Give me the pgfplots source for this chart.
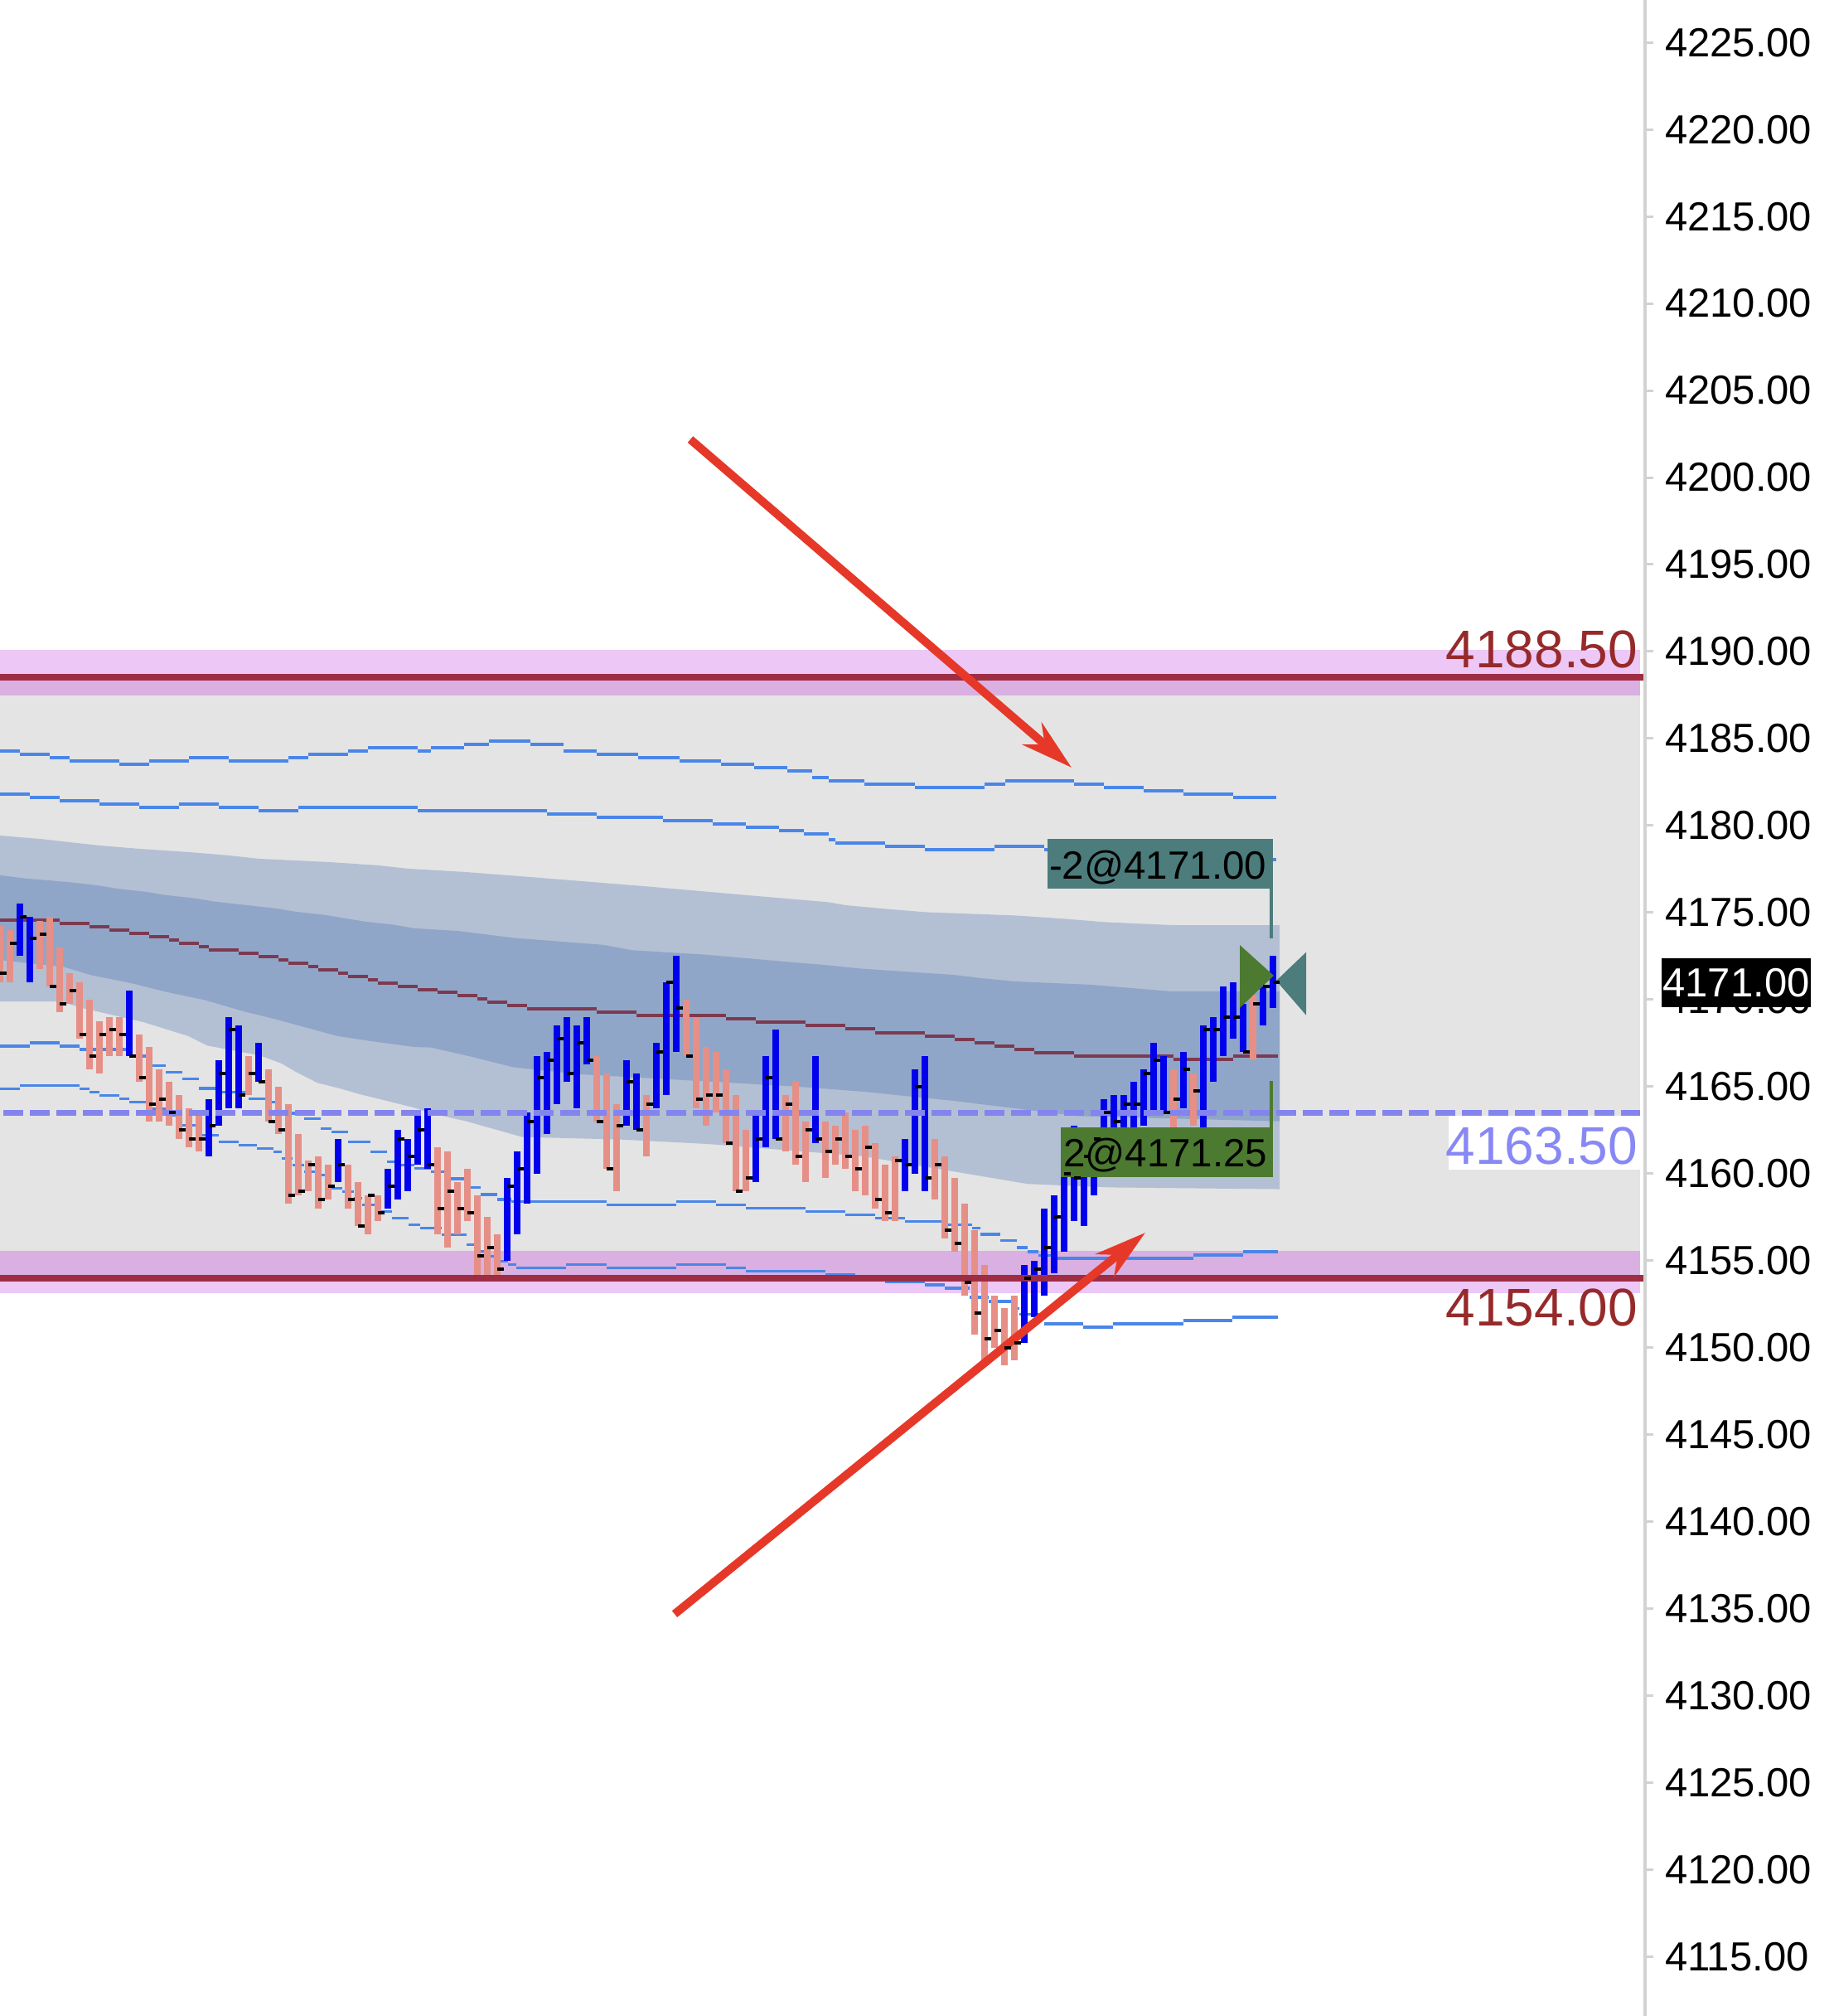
\documentclass[border=0pt]{standalone}
\usepackage{pgfplots}
\pgfplotsset{compat=1.18}
\usepackage{pgfplotstable}
\usepackage{fontspec}
\setmainfont{Liberation Sans}
\usetikzlibrary{arrows.meta}
\definecolor{pinkl}{RGB}{237,199,246}
\definecolor{mauve}{RGB}{217,176,225}
\definecolor{bggray}{RGB}{228,228,228}
\definecolor{bandlight}{RGB}{179,192,212}
\definecolor{banddark}{RGB}{144,166,200}
\definecolor{midline}{RGB}{124,58,80}
\definecolor{linered}{RGB}{158,45,68}
\definecolor{labred}{RGB}{150,42,42}
\definecolor{bluel}{RGB}{74,134,232}
\definecolor{dashb}{RGB}{132,132,238}
\definecolor{dashtext}{RGB}{136,136,245}
\definecolor{barblue}{RGB}{0,0,236}
\definecolor{barsalmon}{RGB}{229,143,135}
\definecolor{tealbox}{RGB}{76,124,124}
\definecolor{greenbox}{RGB}{76,122,48}
\definecolor{arrowred}{RGB}{230,56,40}
\definecolor{axisgray}{RGB}{210,210,210}
\newcommand\tickfont{\fontsize{9.8pt}{11pt}\selectfont}
\newcommand\levfont{\fontsize{12.8pt}{14pt}\selectfont}
\newcommand\trfont{\fontsize{9.5pt}{11pt}\selectfont}

\pgfplotstableread{
x hi lo cl
24 4175.5 4172.5 4174.75
36 4174.75 4171.0 4173.5
156 4170.5 4166.75 4166.75
252 4164.25 4161.0 4162.75
264 4166.5 4162.75 4165.75
276 4169.0 4163.75 4168.25
288 4168.5 4163.75 4164.5
312 4167.5 4165.25 4165.25
408 4162.0 4159.5 4160.5
468 4160.25 4158.0 4159.25
480 4162.5 4158.5 4162.0
492 4162.0 4159.0 4161.0
504 4163.5 4160.5 4162.5
516 4163.75 4160.25 4160.5
612 4159.75 4155.0 4159.25
624 4161.25 4156.5 4160.25
636 4163.5 4158.25 4163.0
648 4166.75 4160.0 4165.5
660 4167.0 4162.25 4166.5
672 4168.5 4164.0 4167.75
684 4169.0 4165.25 4165.75
696 4168.5 4163.75 4167.5
708 4169.0 4166.25 4166.5
756 4166.5 4162.75 4165.25
768 4165.75 4162.5 4162.5
792 4167.5 4163.75 4167.0
804 4171.0 4164.5 4171.0
816 4172.5 4167.0 4169.5
912 4163.5 4159.5 4162.0
924 4166.75 4161.5 4165.5
936 4168.25 4162.0 4162.0
984 4166.75 4161.75 4162.0
1092 4162.0 4159.0 4160.5
1104 4166.0 4160.0 4165.0
1116 4166.75 4159.0 4159.75
1236 4154.75 4150.25 4154.0
1248 4155.0 4151.75 4154.5
1260 4158.0 4153.0 4155.75
1272 4158.75 4154.25 4157.5
1284 4161.5 4155.5 4160.0
1296 4162.75 4157.25 4159.75
1308 4161.5 4157.0 4161.0
1320 4162.25 4158.75 4162.0
1332 4164.25 4160.5 4163.5
1344 4164.5 4161.0 4163.0
1356 4164.5 4161.5 4164.0
1368 4165.25 4162.0 4164.0
1380 4166.0 4162.75 4165.75
1392 4167.5 4163.5 4166.5
1404 4166.75 4163.5 4163.5
1428 4167.0 4163.75 4166.0
1452 4168.5 4161.75 4168.25
1464 4169.0 4165.25 4168.25
1476 4170.75 4166.75 4169.0
1488 4171.0 4167.75 4169.0
1500 4169.75 4167.0 4167.0
1524 4170.75 4168.5 4170.75
1536 4172.5 4169.5 4171.0
}\bluebars

\pgfplotstableread{
x hi lo cl
0 4174.25 4171.0 4171.5
12 4174.0 4171.0 4173.25
48 4174.5 4171.75 4173.75
60 4174.75 4170.75 4170.75
72 4173.0 4169.25 4169.75
84 4171.5 4169.75 4170.5
96 4171.0 4167.75 4168.0
108 4170.0 4166.0 4166.75
120 4168.75 4165.75 4168.0
132 4169.0 4166.75 4168.25
144 4169.0 4166.75 4168.0
168 4168.0 4165.25 4165.5
180 4167.25 4163.0 4164.0
192 4166.0 4163.0 4164.25
204 4165.25 4162.75 4163.5
216 4164.5 4162.0 4162.5
228 4163.75 4161.5 4162.0
240 4163.5 4161.25 4162.0
300 4166.75 4164.5 4165.75
324 4166.0 4163.0 4163.0
336 4165.0 4162.25 4162.5
348 4164.0 4158.25 4158.75
360 4162.25 4158.75 4159.0
372 4160.75 4159.0 4160.5
384 4161.0 4158.0 4158.5
396 4160.5 4158.5 4159.25
420 4160.5 4158.0 4158.5
432 4159.5 4157.0 4157.0
444 4158.75 4156.5 4158.75
456 4158.75 4157.25 4157.75
528 4161.5 4156.5 4158.0
540 4161.25 4155.75 4159.0
552 4159.5 4156.5 4158.0
564 4160.25 4157.25 4157.75
576 4158.75 4154.0 4155.25
588 4157.5 4154.0 4155.75
600 4156.5 4154.0 4154.5
720 4166.75 4163.0 4163.0
732 4165.75 4160.25 4160.25
744 4164.0 4159.0 4162.75
780 4164.5 4161.0 4164.0
828 4170.0 4166.75 4166.75
840 4169.0 4163.75 4164.25
852 4167.25 4162.75 4164.5
864 4167.0 4163.5 4164.5
876 4166.0 4161.75 4161.75
888 4164.5 4159.0 4159.0
900 4162.5 4159.0 4159.75
948 4164.5 4161.25 4164.0
960 4165.25 4160.5 4161.0
972 4163.0 4159.5 4162.5
996 4163.0 4159.75 4161.25
1008 4162.75 4160.5 4162.0
1020 4163.5 4160.25 4161.0
1032 4162.5 4159.0 4160.25
1044 4162.75 4158.75 4161.5
1056 4161.75 4158.0 4158.5
1068 4160.5 4157.25 4157.75
1080 4161.0 4157.25 4160.75
1128 4162.0 4158.5 4160.5
1140 4161.0 4156.25 4156.75
1152 4159.75 4155.5 4156.0
1164 4158.25 4153.0 4153.75
1176 4156.75 4150.75 4152.0
1188 4154.75 4149.25 4150.5
1200 4153.0 4150.0 4151.0
1212 4152.25 4149.0 4150.0
1224 4153.0 4149.25 4150.25
1416 4166.0 4162.5 4164.25
1440 4165.75 4162.75 4164.75
1512 4170.25 4166.5 4169.75
}\salmonbars

\begin{document}
\begin{tikzpicture}
\useasboundingbox (0,0) rectangle (442.4pt,486.4pt);
\begin{axis}[
  at={(0,0)}, anchor=south west,
  x=0.2pt, y=4.198pt,
  xmin=0, xmax=1985, ymin=4111.58, ymax=4227.44,
  clip=false,
  hide x axis,
  axis line style={draw=none},
  ytick={4115,4120,...,4225},
  ytick pos=right, yticklabel pos=right,
  tick align=outside, major tick length=2pt,
  ytick style={draw=axisgray, line width=0.6pt},
  yticklabel style={font=\tickfont, anchor=west, inner sep=0pt, xshift=2.6pt},
  /pgf/number format/fixed, /pgf/number format/fixed zerofill,
  /pgf/number format/precision=2, /pgf/number format/1000 sep={},
  /pgf/number format/assume math mode=true,
]
% zones
\addplot [fill=pinkl, draw=none, mark=none] coordinates {(0,4188.5) (1979,4188.5) (1979,4190.1) (0,4190.1)} --cycle;
\addplot [fill=mauve, draw=none, mark=none] coordinates {(0,4187.45) (1979,4187.45) (1979,4188.5) (0,4188.5)} --cycle;
\addplot [fill=bggray, draw=none, mark=none] coordinates {(0,4155.55) (1979,4155.55) (1979,4187.45) (0,4187.45)} --cycle;
\addplot [fill=mauve, draw=none, mark=none] coordinates {(0,4154.0) (1979,4154.0) (1979,4155.55) (0,4155.55)} --cycle;
\addplot [fill=pinkl, draw=none, mark=none] coordinates {(0,4153.13) (1979,4153.13) (1979,4154.0) (0,4154.0)} --cycle;
% bands
\addplot [fill=bandlight, draw=none, mark=none] coordinates {(0,4179.42) (48,4179.23) (84,4179.04) (120,4178.85) (168,4178.66) (228,4178.47) (276,4178.28) (312,4178.09) (396,4177.9) (456,4177.71) (492,4177.52) (560,4177.33) (650,4177.0) (780,4176.5) (900,4176.0) (1000,4175.59) (1020,4175.42) (1068,4175.21) (1116,4175.02) (1224,4174.83) (1284,4174.64) (1332,4174.45) (1416,4174.27) (1544,4174.27) (1544,4159.1) (1340,4159.2) (1240,4159.4) (1190,4159.8) (1140,4160.2) (1090,4160.6) (1040,4161.0) (853,4161.7) (750,4161.95) (630,4162.1) (600,4162.5) (563,4163.0) (520,4163.46) (500,4163.78) (467,4164.17) (433,4164.57) (410,4164.89) (383,4165.21) (357,4165.84) (340,4166.32) (313,4166.79) (250,4167.35) (227,4167.9) (173,4168.7) (100,4169.5) (73,4169.89) (0,4169.89)} --cycle;
\addplot [fill=banddark, draw=none, mark=none] coordinates {(0,4177.14) (32,4176.95) (80,4176.76) (116,4176.57) (140,4176.38) (176,4176.19) (200,4176.0) (236,4175.81) (260,4175.62) (296,4175.43) (332,4175.24) (356,4175.05) (392,4174.86) (416,4174.67) (440,4174.48) (476,4174.29) (500,4174.09) (553,4173.94) (620,4173.54) (728,4173.14) (763,4172.83) (848,4172.59) (944,4172.19) (992,4172.0) (1040,4171.77) (1150,4171.42) (1183,4171.23) (1224,4171.04) (1316,4170.85) (1412,4170.47) (1544,4170.47) (1544,4163.0) (1300,4163.3) (1150,4164.18) (1040,4164.71) (960,4165.0) (850,4165.3) (700,4165.7) (620,4166.1) (570,4166.7) (520,4167.24) (500,4167.27) (450,4167.59) (407,4167.9) (370,4168.38) (333,4168.86) (293,4169.33) (247,4169.97) (200,4170.44) (160,4170.92) (110,4171.4) (77,4171.87) (0,4172.27)} --cycle;
% mid line
\addplot [midline, line width=0.8pt, jump mark left, mark=none] coordinates {(0,4174.57) (72,4174.38) (108,4174.19) (132,4174.0) (156,4173.81) (180,4173.62) (204,4173.43) (216,4173.24) (240,4173.05) (252,4172.86) (288,4172.67) (312,4172.48) (336,4172.29) (348,4172.1) (372,4171.9) (384,4171.71) (408,4171.52) (420,4171.33) (444,4171.14) (456,4170.95) (480,4170.76) (504,4170.57) (528,4170.41) (552,4170.22) (576,4170.03) (588,4169.84) (612,4169.65) (636,4169.46) (720,4169.27) (768,4169.08) (876,4168.89) (912,4168.7) (972,4168.51) (1020,4168.32) (1056,4168.09) (1116,4167.9) (1152,4167.71) (1176,4167.52) (1200,4167.33) (1224,4167.14) (1248,4166.95) (1296,4166.76) (1416,4166.57) (1488,4166.76) (1542,4166.76)};
% blue lines
\addplot [bluel, line width=0.7pt, jump mark left, mark=none] coordinates {(0,4184.28) (24,4184.09) (60,4183.9) (84,4183.71) (144,4183.52) (180,4183.71) (228,4183.9) (276,4183.71) (348,4183.9) (372,4184.09) (420,4184.28) (444,4184.47) (504,4184.28) (520,4184.47) (560,4184.66) (590,4184.85) (640,4184.66) (680,4184.28) (720,4184.09) (770,4183.9) (820,4183.71) (870,4183.52) (910,4183.33) (950,4183.14) (980,4182.76) (1000,4182.57) (1043,4182.38) (1104,4182.19) (1188,4182.38) (1213,4182.57) (1296,4182.38) (1332,4182.19) (1380,4182.0) (1428,4181.81) (1488,4181.62) (1540,4181.62)};
\addplot [bluel, line width=0.7pt, jump mark left, mark=none] coordinates {(0,4181.8) (36,4181.61) (72,4181.42) (120,4181.23) (168,4181.04) (216,4181.23) (264,4181.04) (312,4180.85) (360,4181.04) (504,4180.85) (600,4180.85) (660,4180.66) (720,4180.47) (800,4180.28) (860,4180.09) (900,4179.9) (940,4179.71) (970,4179.52) (1000,4179.19) (1008,4179.0) (1068,4178.81) (1116,4178.62) (1200,4178.81) (1260,4178.62) (1400,4178.24) (1480,4178.05) (1540,4178.05)};
\addplot [bluel, line width=0.7pt, jump mark left, mark=none] coordinates {(0,4167.33) (36,4167.52) (72,4167.33) (96,4167.14) (160,4166.76) (184,4166.19) (200,4165.81) (220,4165.43) (240,4164.89) (260,4164.67) (300,4164.29) (320,4164.1) (340,4163.46) (367,4163.14) (387,4162.57) (400,4162.38) (420,4161.81) (447,4161.24) (467,4160.67) (480,4160.48) (500,4160.29) (520,4160.1) (540,4159.7) (560,4159.2) (580,4158.8) (600,4158.5) (617,4158.38) (732,4158.19) (816,4158.38) (864,4158.19) (900,4158.0) (972,4157.81) (1020,4157.62) (1056,4157.44) (1092,4157.25) (1140,4157.06) (1173,4156.87) (1183,4156.5) (1207,4156.14) (1227,4155.74) (1240,4155.5) (1253,4155.3) (1273,4155.12) (1440,4155.31) (1500,4155.5) (1542,4155.5)};
\addplot [bluel, line width=0.7pt, jump mark left, mark=none] coordinates {(0,4164.86) (24,4165.05) (96,4164.86) (108,4164.67) (120,4164.48) (144,4164.29) (156,4164.1) (180,4163.71) (200,4163.33) (220,4162.76) (240,4162.19) (264,4161.81) (288,4161.62) (310,4161.43) (330,4161.24) (340,4160.86) (353,4160.48) (367,4160.1) (380,4159.9) (400,4159.14) (413,4158.95) (427,4158.57) (437,4158.19) (460,4157.81) (473,4157.43) (493,4157.05) (507,4156.86) (533,4156.48) (563,4155.9) (573,4155.52) (590,4155.24) (603,4154.95) (613,4154.76) (623,4154.57) (683,4154.76) (732,4154.57) (816,4154.76) (876,4154.57) (900,4154.38) (996,4154.19) (1032,4154.0) (1068,4153.79) (1116,4153.6) (1140,4153.41) (1170,4152.89) (1193,4152.65) (1220,4152.25) (1230,4151.9) (1260,4151.35) (1307,4151.16) (1343,4151.35) (1428,4151.54) (1487,4151.73) (1542,4151.73)};
% close ticks
\addplot [only marks, mark=-, mark size=0.8pt, mark options={draw=black, line width=0.8pt}] table [x expr=\thisrow{x}+4, y=cl] {\bluebars};
\addplot [only marks, mark=-, mark size=0.8pt, mark options={draw=black, line width=0.8pt}] table [x expr=\thisrow{x}+4, y=cl] {\salmonbars};
% bars
\addplot [mark=none, draw=none, error bars/.cd, y dir=plus, y explicit, error mark=none, error bar style={draw=barblue, line width=1.6pt}] table [x=x, y=lo, y error expr=\thisrow{hi}-\thisrow{lo}] {\bluebars};
\addplot [mark=none, draw=none, error bars/.cd, y dir=plus, y explicit, error mark=none, error bar style={draw=barsalmon, line width=1.6pt}] table [x=x, y=lo, y error expr=\thisrow{hi}-\thisrow{lo}] {\salmonbars};
% level lines
\addplot [linered, line width=1.6pt, mark=none] coordinates {(0,4188.5) (1983,4188.5)};
\addplot [linered, line width=1.6pt, mark=none] coordinates {(0,4154.0) (1983,4154.0)};
\addplot [dashb, line width=1.4pt, mark=none, dash pattern=on 4.8pt off 1.6pt, dash phase=5.6pt] coordinates {(0,4163.5) (1979,4163.5)};
% axis line
\draw [axisgray, line width=0.8pt] (axis cs:1985,4111.58) -- (axis cs:1985,4227.44);
% level labels
\node [anchor=base east, inner sep=0pt, text=labred, font=\levfont] at (axis cs:1977,4189.09) {4188.50};
\node [anchor=base east, inner sep=0pt, text=labred, font=\levfont] at (axis cs:1977,4151.26) {4154.00};
\fill [white] (axis cs:1748,4163.31) rectangle (axis cs:1979,4160.22);
\node [anchor=base east, inner sep=0pt, text=dashtext, font=\levfont] at (axis cs:1977,4160.55) {4163.50};
% trade markers
\fill [tealbox] (axis cs:1264,4179.21) rectangle (axis cs:1536,4176.36);
\node [anchor=base west, inner sep=0pt, font=\trfont] at (axis cs:1265,4176.94) {-2@4171.00};
\draw [tealbox, line width=0.8pt] (axis cs:1534,4176.36) -- (axis cs:1534,4173.5);
\fill [greenbox] (axis cs:1280,4162.64) rectangle (axis cs:1536,4159.78);
\node [anchor=base west, inner sep=0pt, font=\trfont] at (axis cs:1282,4160.41) {2@4171.25};
\draw [greenbox, line width=0.8pt] (axis cs:1534,4162.64) -- (axis cs:1534,4165.3);
\fill [greenbox] (axis cs:1496,4173.13) -- (axis cs:1537,4171.37) -- (axis cs:1496,4169.52) -- cycle;
\fill [tealbox] (axis cs:1540,4171.08) -- (axis cs:1576,4172.72) -- (axis cs:1576,4169.10) -- cycle;
% arrows
\draw [arrowred, line width=2pt, -{Stealth[length=12.5pt, width=7pt, inset=4pt]}] (axis cs:833,4202.19) -- (axis cs:1293,4183.33);
\draw [arrowred, line width=2pt, -{Stealth[length=12.5pt, width=7pt, inset=4pt]}] (axis cs:814,4134.68) -- (axis cs:1382,4156.6);
\coordinate (pm) at (axis cs:2004,4170.96);
\end{axis}
\node [anchor=west, fill=black, text=white, inner sep=0pt, minimum width=36pt, minimum height=11.8pt, font=\tickfont] at (pm) {4171.00};
\end{tikzpicture}
\end{document}
